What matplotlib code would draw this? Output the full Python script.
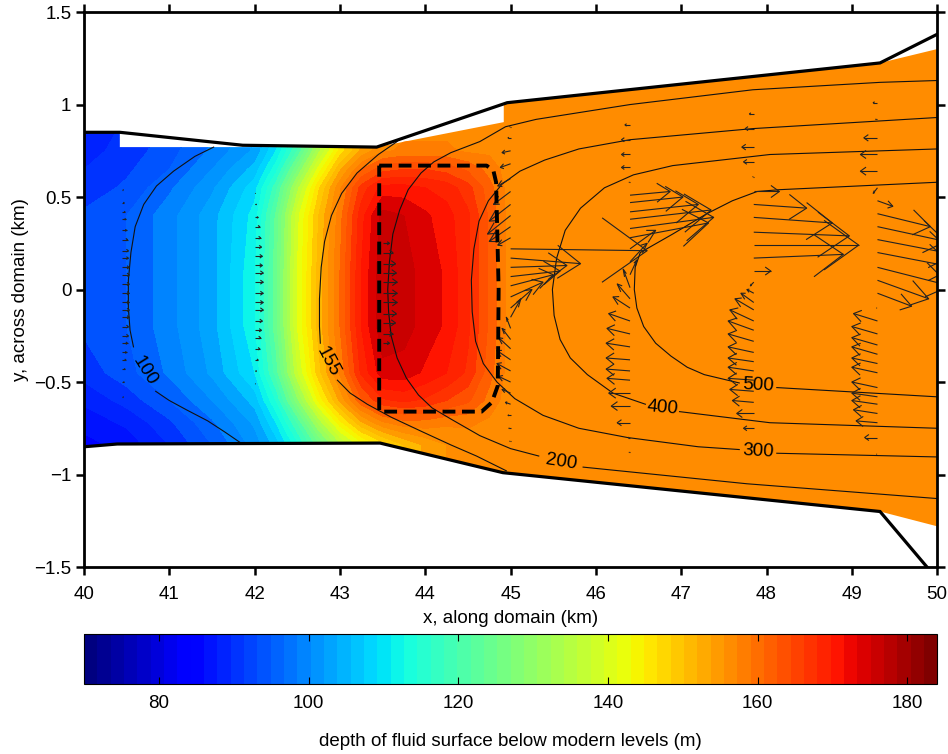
"""Depth of the fluid surface along the domain, with flow arrows and age contours."""

import numpy as np
import matplotlib

matplotlib.use("Agg")
import matplotlib.pyplot as plt
from matplotlib.collections import LineCollection
from matplotlib.colors import Normalize
from matplotlib.cm import ScalarMappable
from matplotlib.patches import Polygon

plt.rcParams["font.family"] = ["Liberation Sans", "DejaVu Sans"]

# depth field (m) read on a coarse grid, one row per y level
GRID_X = [40, 40.5, 41, 41.5, 42, 42.25, 42.5, 42.75, 43, 43.25, 43.5, 43.75,
          44, 44.25, 44.5, 44.75, 45, 45.5, 50]
GRID_Y = [-1.4, -0.84, -0.72, -0.6, -0.45, -0.2, 0.1, 0.4, 0.55, 0.65, 0.75, 0.95, 1.4]
DEPTH_M140 = [84, 86, 90, 95, 101, 106, 114, 124, 134, 141, 146, 150, 153, 155, 156, 156, 156, 156, 156]
DEPTH_M084 = [84, 86, 90, 95, 101, 106, 114, 124, 134, 141, 146, 150, 153, 155, 156, 156, 156, 156, 156]
DEPTH_M072 = [86, 88, 92, 97, 103, 110, 120, 133, 144, 152, 157, 159, 159, 158, 158, 157, 156, 156, 156]
DEPTH_M060 = [88, 91, 95, 100, 106, 115, 129, 143, 153, 162, 167, 168, 167, 165, 163, 159, 156, 156, 156]
DEPTH_M045 = [91, 94, 98, 103, 110, 121, 137, 149, 158, 168, 174, 174, 172, 170, 167, 161, 156, 156, 156]
DEPTH_M020 = [93, 95, 99, 104, 112, 124, 140, 151, 160, 170, 177, 176, 174, 172, 168, 162, 156, 156, 156]
DEPTH_010 = [93, 95, 99, 104, 112, 124, 140, 151, 160, 170, 177, 176, 174, 172, 168, 162, 156, 156, 156]
DEPTH_040 = [93, 95, 99, 104, 111, 123, 139, 150, 159, 169, 176, 175, 173, 171, 168, 162, 156, 156, 156]
DEPTH_055 = [91, 93, 97, 102, 109, 119, 134, 147, 157, 166, 171, 171, 170, 169, 166, 161, 156, 156, 156]
DEPTH_065 = [90, 92, 95, 100, 106, 114, 127, 141, 152, 160, 164, 165, 165, 164, 162, 159, 156, 156, 156]
DEPTH_075 = [89, 91, 94, 98, 103, 110, 120, 134, 146, 153, 157, 158, 158, 158, 157, 157, 156, 156, 156]
DEPTH_095 = [88, 90, 93, 97, 102, 108, 117, 130, 143, 151, 155, 156, 156, 156, 156, 156, 156, 156, 156]
DEPTH_140 = [88, 90, 93, 97, 102, 108, 117, 130, 143, 151, 155, 156, 156, 156, 156, 156, 156, 156, 156]

# fluid domain (coloured area) and its walls
FILL_X = [40, 40.42, 40.42, 43.43, 44.92, 44.92, 49.33, 50, 50, 49.33, 44.92, 43.47, 40.4, 40]
FILL_Y = [0.85, 0.85, 0.77, 0.77, 0.905, 1.005, 1.225, 1.3, -1.28, -1.2, -0.99, -0.83, -0.835, -0.85]
TOP_X = [40, 40.42, 41.86, 43.43, 44.96, 49.33, 50]
TOP_Y = [0.85, 0.85, 0.78, 0.77, 1.01, 1.225, 1.38]
BOT_X = [40, 40.39, 43.47, 44.91, 49.33, 49.88]
BOT_Y = [-0.85, -0.835, -0.83, -0.99, -1.2, -1.5]

# dashed box
BOX_X = [43.46, 44.72, 44.8, 44.83, 44.86, 44.85, 44.78, 44.66, 43.46, 43.46]
BOX_Y = [0.67, 0.67, 0.64, 0.58, 0.0, -0.52, -0.61, -0.66, -0.66, 0.67]

# labelled contour lines (nan = gap for the label)
nan = np.nan
C100_X = [41.52, 41.3, 41.05, 40.85, 40.7, 40.6, 40.55, 40.52, 40.52, 40.54, 40.58, nan,
          40.84, 41.0, 41.2, 41.45, 41.65, 41.84]
C100_Y = [0.77, 0.72, 0.64, 0.56, 0.46, 0.34, 0.2, 0.05, -0.1, -0.22, -0.31, nan,
          -0.55, -0.6, -0.65, -0.71, -0.77, -0.83]
C155_X = [43.67, 43.45, 43.2, 43.02, 42.9, 42.82, 42.78, 42.76, 42.76, 42.77, nan,
          42.97, 43.12, 43.32, 43.6, 43.97, 44.3, 44.6, 44.95]
C155_Y = [0.8, 0.73, 0.63, 0.52, 0.4, 0.26, 0.12, -0.05, -0.2, -0.29, nan,
          -0.49, -0.56, -0.62, -0.69, -0.77, -0.84, -0.9, -0.98]
C200_X = [50, 49.33, 47.84, 46.4, 45.3, 44.94, 44.64, 44.3, 44.1, 43.95, 43.8, 43.7, 43.62,
          43.58, 43.56, 43.57, 43.6, 43.67, 43.78, 43.92, 44.08, 44.3, 44.64, 45.0, 45.33,
          nan, 45.85, 47.77, 50]
C200_Y = [1.13, 1.12, 1.08, 1.0, 0.92, 0.88, 0.8, 0.74, 0.69, 0.63, 0.54, 0.43, 0.3,
          0.15, 0.0, -0.12, -0.25, -0.37, -0.48, -0.57, -0.64, -0.7, -0.79, -0.86, -0.9,
          nan, -0.96, -1.05, -1.13]
C300_X = [50, 47.84, 46.4, 45.8, 45.4, 45.11, 44.9, 44.74, 44.63, 44.57, 44.54, 44.55, 44.59,
          44.68, 44.84, 45.05, 45.38, 45.8, 46.37, 47.2, 47.68, nan, 48.12, 50]
C300_Y = [0.93, 0.87, 0.81, 0.76, 0.7, 0.64, 0.57, 0.48, 0.37, 0.22, 0.05, -0.12, -0.28,
          -0.4, -0.5, -0.59, -0.68, -0.75, -0.8, -0.85, -0.865, nan, -0.885, -0.905]
C400_X = [50, 48.04, 46.9, 46.44, 46.1, 45.82, 45.64, 45.54, 45.49, 45.51, 45.58, 45.7, 45.9,
          46.2, 46.58, nan, 46.98, 48.04, 50]
C400_Y = [0.76, 0.73, 0.67, 0.62, 0.55, 0.44, 0.32, 0.17, 0.0, -0.14, -0.27, -0.37, -0.46,
          -0.56, -0.62, nan, -0.66, -0.72, -0.75]
C500_X = [50, 48.16, 47.89, 47.6, 47.3, 46.9, 46.52, 46.46, 46.45, 46.48, 46.56, 46.7, 46.88,
          47.07, 47.27, 47.68, nan, 48.12, 50]
C500_Y = [0.58, 0.54, 0.53, 0.48, 0.41, 0.3, 0.2, 0.12, 0.0, -0.1, -0.2, -0.29, -0.36,
          -0.42, -0.46, -0.505, nan, -0.53, -0.58]
LABEL_TEXT = ["100", "155", "200", "300", "400", "500"]
LABEL_X = [40.71, 42.86, 45.59, 47.9, 46.78, 47.9]
LABEL_Y = [-0.44, -0.39, -0.93, -0.875, -0.64, -0.52]
LABEL_ROT = [-58, -62, -9, -3, -5, -3]

# flow arrows, one column each: positions and displacements (km)
COL_X = [40.45, 42.0, 43.5, 45.0, 46.4, 47.85, 49.3]
COL_Y = [
    [0.54, 0.47, 0.42, 0.38, 0.32, 0.27, 0.21, 0.17, 0.12, 0.08, 0.03, -0.02, -0.07, -0.11,
     -0.15, -0.2, -0.25, -0.29, -0.34, -0.38, -0.43, -0.5, -0.58],
    [0.52, 0.46, 0.39, 0.34, 0.28, 0.23, 0.18, 0.13, 0.09, 0.04, -0.02, -0.07, -0.11, -0.17,
     -0.22, -0.26, -0.32, -0.38, -0.44, -0.51],
    [0.25, 0.2, 0.14, 0.09, 0.04, -0.02, -0.07, -0.13, -0.18, -0.24, -0.29],
    [0.88, 0.82, 0.75, 0.68, 0.6, 0.53, 0.46, 0.4, 0.34, 0.28, 0.22, 0.17, 0.12, 0.07, 0.02,
     -0.04, -0.1, -0.15, -0.21, -0.27, -0.32, -0.38, -0.44, -0.5, -0.56, -0.62, -0.68, -0.75,
     -0.82, -0.9],
    [0.99, 0.89, 0.81, 0.73, 0.66, 0.58, 0.51, 0.47, 0.42, 0.38, 0.33, 0.28, 0.22, 0.15, 0.08,
     0.01, -0.05, -0.1, -0.17, -0.24, -0.31, -0.38, -0.44, -0.49, -0.56, -0.63, -0.72, -0.8,
     -0.88, -0.96],
    [1.05, 0.95, 0.87, 0.77, 0.69, 0.61, 0.53, 0.46, 0.39, 0.31, 0.24, 0.17, 0.1, 0.04, -0.02,
     -0.07, -0.11, -0.17, -0.22, -0.28, -0.34, -0.39, -0.44, -0.49, -0.55, -0.61, -0.67, -0.75,
     -0.85, -0.95, -1.04],
    [1.12, 1.01, 0.92, 0.82, 0.73, 0.64, 0.55, 0.48, 0.41, 0.34, 0.27, 0.2, 0.12, 0.05, -0.02,
     -0.1, -0.17, -0.24, -0.3, -0.35, -0.4, -0.45, -0.53, -0.58, -0.62, -0.67, -0.72, -0.8,
     -0.89, -0.99, -1.09],
]
COL_U = [
    [0.01, 0.02, 0.03, 0.04, 0.05, 0.06, 0.07, 0.07, 0.08, 0.08, 0.08, 0.08, 0.08, 0.08, 0.08,
     0.07, 0.07, 0.06, 0.05, 0.04, 0.03, 0.02, 0.01],
    [0.01, 0.02, 0.04, 0.06, 0.07, 0.08, 0.09, 0.09, 0.1, 0.1, 0.1, 0.1, 0.1, 0.09, 0.08, 0.07,
     0.06, 0.04, 0.02, 0.01],
    [0.08, 0.12, 0.15, 0.16, 0.17, 0.17, 0.17, 0.16, 0.15, 0.12, 0.08],
    [-0.01, -0.03, -0.1, -0.12, -0.15, -0.2, -0.25, -0.27, -0.25, -0.15, 1.6, 0.82, 0.66, 0.58,
     0.5, 0.38, 0.25, 0.12, -0.05, -0.1, -0.14, -0.16, -0.16, -0.14, -0.1, -0.06, -0.03, -0.02,
     -0.01, 0.0],
    [0.0, -0.06, -0.1, -0.1, -0.1, -0.01, 0.47, 0.62, 0.8, 0.95, 0.98, 0.92, 0.3, 0.2, 0.08,
     -0.08, -0.15, -0.2, -0.25, -0.27, -0.28, -0.28, -0.28, -0.27, -0.25, -0.22, -0.15, -0.02,
     -0.01, 0.0],
    [0.0, -0.05, -0.1, -0.14, -0.12, -0.01, 0.3, 0.62, 0.92, 1.12, 1.23, 1.05, 0.2, -0.04, -0.08,
     -0.15, -0.22, -0.28, -0.3, -0.3, -0.3, -0.3, -0.3, -0.3, -0.28, -0.25, -0.2, -0.12, -0.01,
     0.0, 0.0],
    [0.0, -0.05, -0.02, -0.16, -0.2, -0.2, -0.05, 0.18, 0.62, 0.8, 0.9, 0.9, 0.85, 0.6, 0.4,
     -0.01, -0.28, -0.3, -0.3, -0.3, -0.3, -0.3, -0.3, -0.3, -0.3, -0.28, -0.25, -0.15, -0.01,
     0.0, 0.0],
]
COL_V = [
    [0.0] * 23,
    [0.0] * 20,
    [0.0] * 11,
    [0.0, 0.0, -0.01, -0.02, -0.04, -0.07, -0.09, -0.1, -0.08, -0.04, -0.01, -0.03, 0.01, 0.03,
     0.06, 0.08, 0.1, 0.1, 0.06, 0.06, 0.06, 0.05, 0.04, 0.03, 0.02, 0.01, 0.0, 0.0, 0.0, 0.0],
    [0.0, 0.0, 0.0, 0.0, 0.0, 0.0, 0.02, 0.03, 0.04, 0.05, 0.06, 0.08, 0.1, 0.1, 0.08, 0.1, 0.08,
     0.06, 0.04, 0.03, 0.02, 0.01, 0.01, 0.01, 0.0, 0.0, 0.0, 0.0, 0.0, 0.0],
    [0.0, 0.0, 0.0, 0.0, 0.0, 0.0, 0.0, -0.02, -0.03, -0.02, 0.0, 0.02, 0.0, -0.02, 0.02, 0.05,
     0.06, 0.06, 0.05, 0.04, 0.03, 0.02, 0.02, 0.01, 0.01, 0.01, 0.0, 0.0, 0.0, 0.0, 0.0],
    [0.0, 0.0, 0.0, 0.0, 0.0, 0.0, -0.03, -0.03, -0.07, -0.08, -0.08, -0.08, -0.1, -0.1, -0.07,
     0.0, 0.04, 0.04, 0.04, 0.04, 0.03, 0.03, 0.03, 0.02, 0.02, 0.02, 0.01, 0.0, 0.0, 0.0, 0.0],
]

X_TICKS = [40, 41, 42, 43, 44, 45, 46, 47, 48, 49, 50]
Y_TICKS = [-1.5, -1, -0.5, 0, 0.5, 1, 1.5]
Y_TICKLABELS = ["\u22121.5", "\u22121", "\u22120.5", "0", "0.5", "1", "1.5"]
CBAR_TICKS = [80, 100, 120, 140, 160, 180]
VMIN, VMAX = 70, 184
FS = 13.5


def arrow_segments(x0, ys, us, vs, alpha=0.33, beta=0.33):
    """Shaft plus two barbs per arrow, barbs scaled with arrow length."""
    segs = []
    for y0, u, v in zip(ys, us, vs):
        tx, ty = x0 + u, y0 + v
        segs.append([(x0, y0), (tx, ty)])
        b1 = (tx - alpha * (u + beta * v), ty - alpha * (v - beta * u))
        b2 = (tx - alpha * (u - beta * v), ty - alpha * (v + beta * u))
        segs.append([b1, (tx, ty), b2])
    return segs


def main() -> None:
    fig = plt.figure(figsize=(9.48, 7.54), dpi=100)
    ax = fig.add_axes([0.0886, 0.248, 0.9, 0.736])
    cax = fig.add_axes([0.0886, 0.0928, 0.9, 0.0663])

    cmap = plt.get_cmap("jet", 64)
    norm = Normalize(VMIN, VMAX)
    depth = np.array([DEPTH_M140, DEPTH_M084, DEPTH_M072, DEPTH_M060, DEPTH_M045, DEPTH_M020,
                      DEPTH_010, DEPTH_040, DEPTH_055, DEPTH_065, DEPTH_075, DEPTH_095,
                      DEPTH_140])
    levels = np.arange(VMIN, 186, 2.5)
    cs = ax.contourf(GRID_X, GRID_Y, depth, levels=levels, cmap=cmap, norm=norm)
    clip = Polygon(np.column_stack([FILL_X, FILL_Y]), closed=True,
                   facecolor="none", edgecolor="none")
    ax.add_patch(clip)
    cs.set_clip_path(clip)

    for cx, cy in [(C100_X, C100_Y), (C155_X, C155_Y), (C200_X, C200_Y),
                   (C300_X, C300_Y), (C400_X, C400_Y), (C500_X, C500_Y)]:
        ax.plot(cx, cy, color="#111111", lw=0.8)
    for t, lx, ly, r in zip(LABEL_TEXT, LABEL_X, LABEL_Y, LABEL_ROT):
        ax.text(lx, ly, t, rotation=r, rotation_mode="anchor", ha="center", va="center",
                fontsize=FS)

    segs = []
    for x0, ys, us, vs in zip(COL_X, COL_Y, COL_U, COL_V):
        segs += arrow_segments(x0, ys, us, vs)
    ax.add_collection(LineCollection(segs, colors="#222222", linewidths=0.8))

    ax.plot(BOX_X, BOX_Y, color="black", lw=2.8, ls=(0, (3.3, 1.7)))
    ax.plot(TOP_X, TOP_Y, color="black", lw=2.3, solid_joinstyle="miter")
    ax.plot(BOT_X, BOT_Y, color="black", lw=2.3, solid_joinstyle="miter")

    ax.set_xlim(40, 50)
    ax.set_ylim(-1.5, 1.5)
    ax.set_xticks(X_TICKS)
    ax.set_yticks(Y_TICKS)
    ax.set_yticklabels(Y_TICKLABELS)
    ax.tick_params(direction="out", length=6, width=1.8, labelsize=FS,
                   top=True, right=True)
    ax.tick_params(axis="x", pad=8)
    ax.tick_params(axis="y", pad=3)
    for s in ax.spines.values():
        s.set_linewidth(2.0)
    ax.set_xlabel("x, along domain (km)", fontsize=FS, labelpad=5)
    ax.set_ylabel("y, across domain (km)", fontsize=FS, labelpad=4)

    cb = fig.colorbar(ScalarMappable(norm=norm, cmap=cmap), cax=cax,
                      orientation="horizontal", ticks=CBAR_TICKS)
    cb.outline.set_linewidth(0.8)
    cax.tick_params(axis="x", direction="in", length=5, width=0.8, top=True,
                    bottom=True, labelsize=FS, pad=8)
    cb.set_label("depth of fluid surface below modern levels (m)", fontsize=FS, labelpad=15)

    fig.savefig("out.png", dpi=100)
    plt.close(fig)


if __name__ == "__main__":
    main()
